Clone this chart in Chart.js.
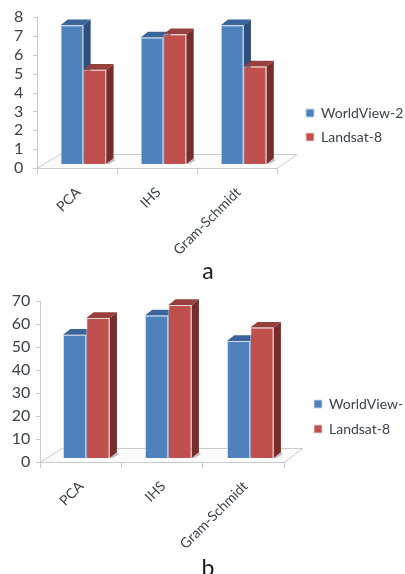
<!DOCTYPE html>
<html>
<head>
<meta charset="utf-8">
<script src="https://cdn.jsdelivr.net/npm/chart.js@4/dist/chart.umd.js"></script>
<style>
html,body{margin:0;padding:0;background:#fff;overflow:hidden;width:405px;height:574px}
canvas{position:absolute;left:0;filter:blur(0.45px)}
.cap{position:absolute;font:23px Lato,sans-serif;color:#1a1a1a;line-height:24px;width:20px;text-align:center}
</style>
</head>
<body>
<canvas id="ca" width="405" height="280" style="top:0;width:405px;height:280px"></canvas>
<canvas id="cb" width="405" height="289" style="top:285px;width:405px;height:289px"></canvas>
<div class="cap" style="left:198px;top:258px">a</div>
<div class="cap" style="left:198px;top:555px">b</div>
<script>
const categories = ["PCA", "IHS", "Gram-Schmidt"];
const seriesA1 = [7.35, 6.7, 7.35];
const seriesA2 = [5.0, 6.88, 5.17];
const seriesB1 = [53.6, 62.0, 50.9];
const seriesB2 = [60.9, 66.5, 56.7];
const namesA = ["WorldView-2", "Landsat-8"];
const namesB = ["WorldView-", "Landsat-8"];
const ticksA = [0,1,2,3,4,5,6,7,8];
const ticksB = [0,10,20,30,40,50,60,70];

const BLUE='#4F81BD', RED='#C0504D';
const TOP={[BLUE]:'#3B659A',[RED]:'#96403D'};
const SIDE={[BLUE]:'#2F4F7C',[RED]:'#772D2B'};
const TXT='#3C424A';

function noPad(s){s.paddingTop=0;s.paddingBottom=0;s.paddingLeft=0;s.paddingRight=0;}

function build(id, g){
  const pxPerUnit=(g.y0-g.y1)/g.max;
  const shift=g.lift/pxPerUnit;
  const depth={
    id:'depth',
    afterLayout(chart){
      const l=chart.legend;
      const p=l.options.labels.padding;
      const w=l.width,h=l.height;
      l.left=g.legX-p; l.right=l.left+w;
      l.top=g.legY; l.bottom=l.top+h;
    },
    beforeDatasetsDraw(chart){
      const c=chart.ctx, ys=chart.scales.y;
      c.save();
      c.strokeStyle='#C8CACE'; c.lineWidth=1;
      c.fillStyle='#FCFCFC';
      c.beginPath();c.moveTo(g.ax,g.y0+.5);c.lineTo(g.tx[3],g.y0+.5);c.lineTo(g.backR,g.backY+.5);c.lineTo(g.backL,g.backY+.5);c.closePath();c.fill();c.stroke();
      c.beginPath();
      c.moveTo(g.ax+.5,g.y1); c.lineTo(g.ax+.5,g.y0+6);
      g.tx.slice(1).forEach(x=>{c.moveTo(x+.5,g.y0);c.lineTo(x+.5,g.y0+6);});
      ys.ticks.forEach((t,i)=>{const y=Math.round(ys.getPixelForTick(i))+.5;c.moveTo(g.ax-4,y);c.lineTo(g.ax,y);});
      c.stroke();
      const dx=g.dx, dy=g.dy;
      chart.getSortedVisibleDatasetMetas().forEach(m=>{
        const col=chart.data.datasets[m.index].backgroundColor;
        m.data.forEach(el=>{
          const p=el.getProps(['x','y','base','width'],true);
          const L=p.x-p.width/2,R=p.x+p.width/2,T=p.y,B=p.base;
          c.fillStyle='rgba(120,120,120,.45)';
          c.beginPath();c.moveTo(R,B);c.lineTo(R+dx,B-dy);c.lineTo(R+dx+2,B-dy+2);c.lineTo(R+3,B);c.closePath();c.fill();
          c.fillStyle=SIDE[col];
          c.beginPath();c.moveTo(R,T);c.lineTo(R+dx,T-dy);c.lineTo(R+dx,B-dy);c.lineTo(R,B);c.closePath();c.fill();
          c.fillStyle=TOP[col];
          c.beginPath();c.moveTo(L,T);c.lineTo(L+dx,T-dy);c.lineTo(R+dx,T-dy);c.lineTo(R,T);c.closePath();c.fill();
        });
      });
      c.restore();
    }
  };
  return new Chart(document.getElementById(id),{
    type:'bar',
    data:{labels:categories,datasets:[
      {label:g.names[0],data:g.s1,backgroundColor:BLUE,borderColor:'rgba(205,215,235,.85)',borderWidth:1,yAxisID:'yb'},
      {label:g.names[1],data:g.s2,backgroundColor:RED,borderColor:'rgba(235,210,210,.85)',borderWidth:1,yAxisID:'yb'}
    ]},
    options:{
      responsive:false,animation:false,
      layout:{padding:{top:g.y1,right:405-g.right,left:0,bottom:0}},
      datasets:{bar:{categoryPercentage:g.cat,barPercentage:1}},
      plugins:{
        tooltip:{enabled:false},title:{display:false},
        legend:{position:'chartArea',align:'start',labels:{
          boxWidth:8,boxHeight:8,padding:g.legPad,color:TXT,font:{family:'Lato',size:14}
        }}
      },
      scales:{
        x:{
          grid:{display:false},border:{display:false},
          afterFit(s){s.height=g.h-g.y0;noPad(s);},
          ticks:{minRotation:45,maxRotation:45,autoSkip:false,padding:g.xPad,labelOffset:-5,color:TXT,font:{family:'Lato',size:14}}
        },
        y:{
          position:'left',min:0,max:g.max,
          grid:{display:false},border:{display:false},
          afterFit(s){s.width=g.left;noPad(s);},
          afterBuildTicks(s){s.ticks=g.ticks.map(v=>({value:v}));},
          ticks:{autoSkip:false,padding:g.yPad,color:TXT,font:{family:'Lato',size:16}}
        },
        yb:{display:false,min:-shift,max:g.max-shift}
      }
    },
    plugins:[depth]
  });
}

build('ca',{names:namesA,s1:seriesA1,s2:seriesA2,ticks:ticksA,max:8,h:280,y0:168,y1:17,lift:4,
  left:43.3,right:283.7,cat:.571,ax:37,tx:[37,117,197,277],backL:60,backR:297,backY:154,
  dx:7.3,dy:5.7,legX:306,legY:96,legPad:10,xPad:8,yPad:12});
build('cb',{names:namesB,s1:seriesB1,s2:seriesB2,ticks:ticksB,max:70,h:289,y0:177,y1:16,lift:4,
  left:45.3,right:291.3,cat:.569,ax:40,tx:[40,121,202,284],backL:62,backR:303,backY:163,
  dx:7.3,dy:5.7,legX:314,legY:101,legPad:11,xPad:8,yPad:7});
</script>
</body>
</html>
